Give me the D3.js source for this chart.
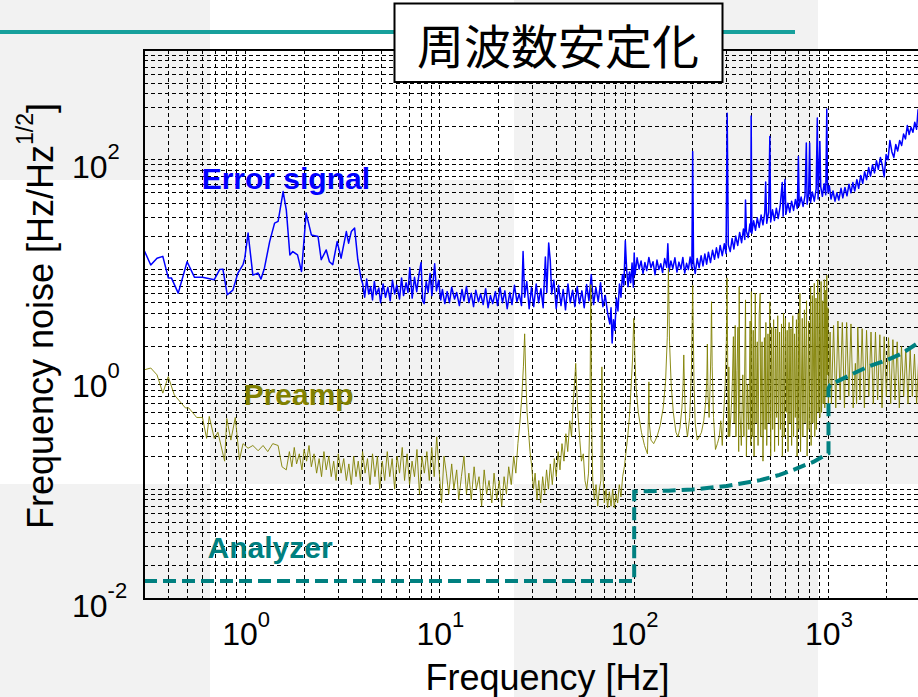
<!DOCTYPE html>
<html>
<head>
<meta charset="utf-8">
<script src="https://cdn.jsdelivr.net/npm/d3@7"></script>
<style>
  html, body { margin: 0; padding: 0; background: #fff; }
  svg { display: block; }
</style>
</head>
<body>
<svg id="chart" width="918" height="697"></svg>
<script>
// ---- Data: frequency [Hz], frequency noise [Hz/Hz^1/2] ----
const errorSignal = [
  [0.30,15.1],[0.325,11.0],[0.35,12.7],[0.375,13.2],[0.40,8.4],[0.415,8.4],[0.45,6.1],[0.50,11.8],
  [0.546,8.5],[0.60,8.5],[0.69,8.1],[0.735,10.0],[0.764,10.1],[0.805,5.9],[0.86,6.5],[0.913,9.3],
  [0.97,11.1],[0.99,12.7],[1.03,21.5],[1.09,8.9],[1.16,9.3],[1.20,8.2],[1.25,10.3],[1.33,18.0],
  [1.41,26.5],[1.47,27.5],[1.56,51.4],[1.62,35],[1.69,13.6],[1.75,14.6],[1.85,13.6],[1.94,9.6],
  [2.05,32.7],[2.18,20.7],[2.36,20.0],[2.45,12.3],[2.6,15.1],[2.7,11.8],[2.81,11.1],[2.96,18.0],
  [3.1,12.7],[3.3,22.2],[3.39,17.4],[3.5,22.2],[3.64,23.9],[3.78,12.3],[3.94,8.1],
  [4.0,7.5],[4.1,5.6],[4.2,8.2],[4.3,6.0],[4.4,7.0],[4.5,5.3],[4.6,7.8],[4.7,5.9],[4.85,6.8],
  [4.95,5.0],[5.1,7.4],[5.25,5.6],[5.4,6.9],[5.55,5.2],[5.7,8.0],[5.85,6.0],[6.0,7.2],[6.2,5.4],
  [6.35,8.4],[6.5,5.8],[6.7,7.6],[6.85,6.2],[7.0,10.4],[7.2,5.5],[7.4,8.5],[7.6,6.3],[7.8,9.0],
  [8.0,11.6],[8.15,5.2],[8.3,4.9],[8.5,7.8],[8.7,6.2],[8.9,9.2],[9.1,5.8],[9.4,11.3],[9.6,6.4],
  [9.85,8.0],[10.1,5.3],[10.3,6.6],
  [10.6,4.9],[10.9,6.3],[11.2,5.0],[11.5,6.9],[11.9,5.4],[12.2,6.2],[12.6,4.7],[13.0,6.6],[13.3,5.2],
  [13.7,7.0],[14.1,5.0],[14.5,6.1],[14.9,4.6],[15.3,6.5],[15.8,5.1],[16.2,6.0],[16.7,4.8],[17.2,6.7],
  [17.7,4.5],[18.2,5.8],[18.7,4.9],[19.3,6.3],[19.8,4.7],[20.4,6.9],[21.0,5.0],[21.6,6.4],[22.2,4.4],
  [22.9,6.2],[23.5,4.8],[24.2,7.2],[24.9,5.1],[25.6,6.0],[26.3,4.7],[26.8,14.6],[27.3,5.6],[28.0,7.8],
  [28.8,4.4],[29.6,6.9],[30.4,4.6],[31.3,7.4],[32.2,5.0],[33.1,6.7],[34.0,4.5],[34.9,13.0],[35.5,6.2],
  [36.3,17.5],[37.0,12.0],[37.6,6.0],[38.6,8.0],[39.7,4.4],[40.8,7.2],[42.0,4.7],[43.1,6.6],[44.3,4.3],
  [45.6,7.4],[46.9,5.0],[48.2,6.5],[49.5,4.6],[50.9,7.0],[52.3,4.9],[53.8,6.4],[55.3,4.5],[56.9,7.3],
  [58.5,5.2],[60.1,9.0],[61.8,4.8],[63.5,6.9],[65.3,5.1],[67.1,7.6],[69.0,4.6],[71.0,5.8],[73.0,4.0],
  [74.9,3.2],[76.0,4.5],[77.0,2.15],[78.2,3.5],[79.5,2.8],[81.0,5.5],[82.5,4.2],[84.0,7.4],[85.5,5.6],
  [87.0,9.0],[88.5,7.2],[90.0,18.3],[91.5,9.8],[93.0,7.0],[94.5,9.5],[96.0,7.6],[97.5,11.5],[99.0,6.9],
  [100,14.2],
  [101,9.0],[103.5,12.8],[106,10.1],[108.5,12.0],[111,9.2],[113.5,11.6],[116,9.8],[119,12.9],[122,10.4],
  [125,11.8],[128,9.0],[131,12.2],[134,10.0],[137,11.3],[140,9.4],[143.5,12.6],[147,10.5],[149,17.2],
  [151,9.6],[154.5,12.0],[158,10.2],[162,12.8],[166,9.5],[170,11.7],[174,10.1],[178,12.9],[182,9.3],
  [186,11.4],[190,10.0],[194,13.0],[198,10.2],[200,119],[202,11.8],[206,9.2],[211,12.6],[216,10.4],
  [221,13.4],[226,10.8],[231,13.9],[236,11.2],[241,14.4],[247,11.6],[253,15.0],[259,12.4],[265,15.8],
  [271,12.8],[277,16.6],[284,13.4],[291,17.2],[297,14.0],[301,266],[305,16.8],[312,14.6],[319,19.2],
  [326,15.4],[333,20.2],[341,16.6],[349,21.8],[357,17.6],[365,23.4],[371,18.8],[374,43],[378,22.4],
  [386,19.6],[394,26.0],[398,22.0],[400,250],[403,21.4],[412,27.8],[421,22.8],[430,29.6],[440,24.2],
  [450,31.4],[460,25.6],[470,32.8],[475,62.7],[481,26.4],[492,33.6],[499,163],[504,27.2],[515,35.0],
  [527,28.0],[539,36.2],[551,29.2],[564,37.8],[578,62],[584,30.6],[597,66],[604,32.0],[618,40.2],
  [632,33.2],[646,42.0],[661,34.6],[676,43.6],[691,36.0],[700,107],[707,38.0],[723,45.8],[740,37.6],
  [757,47.2],[769,142],[776,39.4],[790,48.6],[800,142],[808,40.8],[826,51.0],[845,42.0],[864,54.5],
  [876,240],[884,44.0],[903,147],[912,57.0],[930,46.5],[950,60.5],[968,48.0],[980,290],[987,64.0],
  [995,50.0],
  [1010,58],[1030,44],[1055,52],[1080,42],[1105,50],[1130,43],[1160,55],[1185,45],[1215,56],[1245,47],
  [1275,60],[1305,50],[1335,62],[1365,52],[1400,66],[1430,55],[1465,72],[1500,61],[1535,78],[1570,66],
  [1610,85],[1645,71],[1685,90],[1725,76],[1765,98],[1805,82],[1850,105],[1890,90],[1935,70],[1980,112],
  [2025,100],[2070,150],[2120,118],[2170,105],[2220,138],[2270,120],[2325,150],[2380,135],[2435,172],
  [2490,155],[2545,205],[2600,170],[2660,198],[2720,178],[2780,220],[2840,190],[2890,285],[2950,210]
];

const preamp = [
  [0.30,1.22],[0.325,1.27],[0.35,1.10],[0.375,0.75],[0.40,1.06],[0.43,0.72],[0.49,0.55],[0.51,0.55],
  [0.56,0.45],[0.60,0.45],[0.63,0.29],[0.65,0.46],[0.69,0.29],[0.72,0.33],[0.78,0.18],[0.80,0.44],
  [0.84,0.28],[0.885,0.45],[0.93,0.185],[0.97,0.26],[1.03,0.236],[1.09,0.25],[1.16,0.224],[1.23,0.25],
  [1.30,0.22],[1.38,0.26],[1.47,0.25],[1.54,0.16],[1.62,0.15],
  [1.68,0.22],[1.73,0.16],[1.78,0.24],[1.83,0.17],[1.89,0.21],[1.95,0.15],[2.0,0.23],[2.06,0.18],
  [2.12,0.25],[2.18,0.16],[2.25,0.21],[2.32,0.14],[2.39,0.19],[2.46,0.13],[2.53,0.22],[2.6,0.15],
  [2.68,0.2],[2.76,0.13],[2.84,0.18],[2.92,0.12],[3.0,0.21],[3.1,0.14],[3.2,0.19],[3.3,0.12],[3.4,0.17],
  [3.5,0.11],[3.6,0.2],[3.7,0.13],[3.8,0.18],[3.9,0.12],[4.0,0.22],[4.12,0.14],[4.24,0.19],[4.37,0.11],
  [4.5,0.21],[4.63,0.13],[4.77,0.2],[4.9,0.1],[5.05,0.18],[5.2,0.12],[5.36,0.22],[5.52,0.13],[5.68,0.19],
  [5.85,0.1],[6.02,0.2],[6.2,0.14],[6.4,0.24],[6.58,0.12],[6.78,0.21],[6.98,0.11],[7.19,0.18],[7.4,0.13],
  [7.62,0.23],[7.85,0.09],[8.08,0.2],[8.32,0.14],[8.57,0.22],[8.82,0.12],[9.08,0.24],[9.35,0.13],
  [9.63,0.3],[9.9,0.15],[10.2,0.075],[10.5,0.2],
  [10.8,0.14],[11.1,0.09],[11.5,0.17],[11.8,0.1],[12.2,0.15],[12.5,0.08],[12.9,0.13],[13.3,0.2],
  [13.7,0.09],[14.1,0.14],[14.5,0.08],[15.0,0.16],[15.4,0.1],[15.9,0.13],[16.4,0.07],[16.9,0.15],
  [17.4,0.09],[17.9,0.12],[18.5,0.075],[19.0,0.14],[19.6,0.08],[20.2,0.12],[20.8,0.07],[21.4,0.13],
  [22.0,0.09],[22.6,0.16],[23.3,0.11],[24.0,0.2],[24.6,0.14],[25.2,0.26],[25.8,0.4],[26.4,0.7],
  [26.9,1.3],[27.3,2.6],[27.7,1.0],[28.1,0.5],[28.6,0.33],[29.1,0.22],[29.7,0.16],[30.3,0.1],
  [30.9,0.14],[31.6,0.08],[32.3,0.12],[33.0,0.075],[33.8,0.13],[34.6,0.09],[35.4,0.15],[36.2,0.1],
  [37.0,0.17],[37.9,0.11],[38.8,0.19],[39.7,0.13],[40.6,0.22],[41.5,0.15],[42.5,0.26],[43.5,0.18],
  [44.5,0.32],[45.5,0.22],[46.6,0.42],[47.6,0.3],[48.5,0.62],[49.3,0.9],[50.0,1.4],[50.7,0.75],
  [51.5,0.45],[52.5,0.28],[53.5,0.18],[54.7,0.21],[55.8,0.12],[57.0,0.1],[58.2,0.14],[59.2,0.5],
  [59.8,7.3],[60.4,0.4],[61.2,0.12],[62.4,0.08],[63.6,0.11],[64.9,0.07],[66.2,0.1],[67.4,0.12],
  [68.2,1.3],[69.0,0.14],[70.2,0.075],[71.6,0.1],[73.0,0.068],[74.5,0.095],[76.0,0.07],[77.5,0.1],
  [79.0,0.068],[80.6,0.09],[82.2,0.075],[83.8,0.11],[85.5,0.085],[87.2,0.13],[89.0,0.16],[90.8,0.22],
  [92.6,0.3],[94.4,0.45],[96.2,0.8],[98.0,1.5],[99.5,3.6],
  [100.5,2.0],[102,0.9],[105,0.5],[109,0.33],[113,0.25],[117,0.21],[118.5,0.5],[119,0.95],[119.6,0.4],
  [122,0.28],[126,0.26],[131,0.3],[136,0.38],[141,0.55],[145,0.95],[148,2.4],[150,10.3],[152,2.2],
  [155,0.9],[159,0.5],[164,0.33],[168,0.3],[172,0.36],[176,0.55],[178.5,0.9],[180,1.67],[181.5,0.8],
  [184,0.42],[188,0.3],[193,0.45],[197,1.2],[200,7.2],[203,1.0],[206,0.4],[211,0.28],[216,0.3],
  [222,0.33],[228,0.42],[233,0.6],[236.5,1.0],[238,2.1],[240,0.7],[243,0.45],[246,0.9],[248.5,2.0],
  [250,5.1],[252,1.3],[256,0.45],[262,0.23],[268,0.26],[274,0.3],[279,0.42],[284,0.25],[289,0.5],
  [294,0.9],[298,2.2],[300.5,8.4],[303,1.3],[305,0.3],[307,1.3],[310,0.3],[316,0.55],[320,0.95],
  [324,2.45],[327,0.4],[331,3.1],[334,0.3],[338,1.2],[342,3.0],[345,0.22],[347,7.0],[350,0.5],
  [356,0.25],[362,1.1],[367,0.3],[374,5.3],[378,0.2],[383,0.9],[389,0.35],[395,3.4],[398,0.25],
  [401,6.3],[405,0.3],[410,2.8],[414,0.2],[420,6.1],[424,0.4],[430,2.2],[434,0.25],[440,4.0],
  [445,6.1],[448,0.3],[455,2.2],[460,0.18],[468,2.4],[472,0.35],[476,3.3],[481,0.25],[488,2.6],
  [493,0.4],[499,5.1],[504,0.2],[510,3.0],[516,0.35],[522,3.5],[528,0.22],[535,2.9],[541,0.45],
  [548,3.8],[553,0.25],[560,2.7],[566,0.35],[573,3.2],[579,0.2],[587,4.0],[592,0.3],[600,3.6],
  [606,0.5],[613,2.8],[619,0.22],[627,3.3],[633,0.4],[641,2.9],[646,0.25],[655,3.8],[661,0.3],
  [669,2.6],[675,0.45],[684,3.5],[689,0.2],[699,4.0],[704,0.35],[713,6.1],[718,0.22],[733,3.6],
  [738,0.3],[752,4.3],[757,0.4],[771,5.2],[776,0.2],[790,3.4],[795,0.35],[809,7.0],[814,0.25],
  [826,5.8],[831,0.4],[845,7.5],[850,0.3],[862,5.5],[867,0.35],[880,8.1],[885,0.5],[898,6.2],
  [903,0.45],[916,7.8],[921,0.5],[934,5.2],[939,0.6],[952,8.1],[957,0.55],[968,6.5],[973,0.7],
  [980,8.9],[986,1.1],[993,4.5],[998,0.6],
  [1005,0.8],[1019,2.7],[1035,0.6],[1062,3.1],[1090,0.55],[1118,3.4],[1148,0.65],[1178,3.3],
  [1208,0.55],[1240,3.3],[1272,0.7],[1305,3.2],[1340,0.55],[1375,1.4],[1395,0.6],[1415,3.0],
  [1452,0.65],[1490,2.9],[1530,0.55],[1570,2.8],[1612,0.7],[1655,2.7],[1700,0.6],[1745,2.7],
  [1790,0.65],[1838,2.55],[1886,0.55],[1935,2.45],[1985,0.7],[2037,2.4],[2090,0.6],[2145,2.3],
  [2200,0.65],[2257,2.2],[2315,0.55],[2375,2.0],[2437,0.7],[2500,1.9],[2565,0.6],[2632,1.85],
  [2700,0.7],[2770,1.7],[2842,0.6],[2915,1.6],[2990,0.7]
];

const analyzer = [
  [0.3,0.0146],[100,0.0146],[100,0.095],[150,0.097],[200,0.0995],[300,0.107],[445,0.121],
  [560,0.135],[660,0.15],[750,0.165],[840,0.178],[920,0.195],[1000,0.212],[1000,0.83],
  [1020,0.89],[1300,1.1],[1600,1.31],[2000,1.5],[2400,1.73],[2950,2.2]
];

const xTicks = [1, 10, 100, 1000];
const yTicks = [0.01, 1, 100];

// ---- Layout ----
const svg = d3.select('#chart');
const W = 918, H = 697;
const plot = { left: 144, top: 50, right: 921.2, bottom: 599 };
const FONT = "'Liberation Sans', Arial, Helvetica, sans-serif";

const x = d3.scaleLog().domain([0.3, 3000]).range([plot.left, plot.right]);
const y = d3.scaleLog().domain([0.01, 1000]).range([plot.bottom, plot.top]);

// Checkered slide background
const tile = 304, offX = -94, offY = -124;
const bg = svg.append('g');
bg.append('rect').attr('width', W).attr('height', H).attr('fill', '#ffffff');
for (let r = 0; r < 4; r++) {
  for (let c = 0; c < 5; c++) {
    if ((r + c) % 2 === 0) {
      bg.append('rect')
        .attr('x', offX + c * tile).attr('y', offY + r * tile)
        .attr('width', tile).attr('height', tile)
        .attr('fill', '#f2f2f2');
    }
  }
}

// Teal header rule
svg.append('line')
  .attr('x1', 0).attr('x2', 795).attr('y1', 32).attr('y2', 32)
  .attr('stroke', '#17a09c').attr('stroke-width', 4);

// Log grid (major + minor)
const gridX = [], gridY = [];
for (let e = -1; e <= 3; e++) for (let k = 1; k <= 9; k++) {
  const v = k * Math.pow(10, e);
  if (v >= 0.3 - 1e-9 && v <= 3000 + 1e-9) gridX.push(v);
}
for (let e = -2; e <= 2; e++) for (let k = 1; k <= 9; k++) {
  const v = k * Math.pow(10, e);
  if (v > 0.01 + 1e-9 && v <= 1000 + 1e-9) gridY.push(v);
}
const grid = svg.append('g')
  .attr('stroke', '#000').attr('stroke-width', 1)
  .attr('stroke-dasharray', '4,3').attr('shape-rendering', 'crispEdges');
grid.selectAll('.gx').data(gridX).join('line')
  .attr('x1', d => x(d)).attr('x2', d => x(d))
  .attr('y1', plot.top).attr('y2', plot.bottom);
grid.selectAll('.gy').data(gridY).join('line')
  .attr('x1', plot.left).attr('x2', plot.right)
  .attr('y1', d => y(d)).attr('y2', d => y(d));

// Spectra
svg.append('clipPath').attr('id', 'plotclip')
  .append('rect')
  .attr('x', plot.left).attr('y', plot.top)
  .attr('width', plot.right - plot.left).attr('height', plot.bottom - plot.top);

const line = d3.line().x(d => x(d[0])).y(d => y(d[1]));
const curves = svg.append('g').attr('clip-path', 'url(#plotclip)').attr('fill', 'none');

curves.append('path').datum(errorSignal)
  .attr('d', line).attr('stroke', '#0000ff').attr('stroke-width', 1.5)
  .attr('stroke-linejoin', 'round');
curves.append('path').datum(preamp)
  .attr('d', line).attr('stroke', '#808000').attr('stroke-width', 0.9)
  .attr('stroke-linejoin', 'round');
curves.append('path').datum(analyzer)
  .attr('d', line).attr('stroke', '#008080').attr('stroke-width', 4)
  .attr('stroke-dasharray', '13,6');

// Axes box
svg.append('path')
  .attr('d', `M${plot.right},${plot.top}H${plot.left}V${plot.bottom}H${plot.right}`)
  .attr('fill', 'none').attr('stroke', '#000').attr('stroke-width', 2);

// Tick labels (power-of-ten with superscript)
function powerLabel(sel, baseDy, supDy) {
  sel.each(function (d) {
    const t = d3.select(this);
    const e = Math.round(Math.log10(d));
    t.text(null).attr('dy', null).attr('y', baseDy);
    t.append('tspan').text('10');
    t.append('tspan').attr('dy', supDy).attr('font-size', 22).text(String(e));
  });
}

const gx = svg.append('g')
  .attr('transform', `translate(0,${plot.bottom})`)
  .call(d3.axisBottom(x).tickValues(xTicks).tickSize(0).tickPadding(0));
gx.select('.domain').remove();
gx.attr('font-family', FONT).attr('font-size', 32);
gx.selectAll('.tick text').attr('fill', '#000').attr('text-anchor', 'middle')
  .call(powerLabel, 46, -18);

const gy = svg.append('g')
  .attr('transform', `translate(${plot.left},0)`)
  .call(d3.axisLeft(y).tickValues(yTicks).tickSize(0).tickPadding(0));
gy.select('.domain').remove();
gy.attr('font-family', FONT).attr('font-size', 32);
gy.selectAll('.tick text').attr('fill', '#000').attr('text-anchor', 'start').attr('x', -72)
  .call(powerLabel, 17.5, -19);

// Axis titles
svg.append('text')
  .attr('x', 547.5).attr('y', 690)
  .attr('text-anchor', 'middle')
  .attr('font-family', FONT).attr('font-size', 36).attr('fill', '#000')
  .text('Frequency [Hz]');

const yTitle = svg.append('text')
  .attr('transform', 'translate(53,316) rotate(-90)')
  .attr('text-anchor', 'middle')
  .attr('font-family', FONT).attr('font-size', 36).attr('fill', '#000');
yTitle.append('tspan').text('Frequency noise [Hz/Hz');
yTitle.append('tspan').attr('dy', -20).attr('font-size', 23).text('1/2');
yTitle.append('tspan').attr('dy', 20).text(']');

// Series labels
const seriesLabels = [
  { text: 'Error signal', f: 0.594, v: 54.4, color: '#0000ff' },
  { text: 'Preamp', f: 0.977, v: 0.586, color: '#808000' },
  { text: 'Analyzer', f: 0.637, v: 0.0236, color: '#008080' }
];
svg.append('g').selectAll('text').data(seriesLabels).join('text')
  .attr('x', d => x(d.f)).attr('y', d => y(d.v))
  .attr('font-family', FONT).attr('font-size', 30).attr('font-weight', 'bold')
  .attr('fill', d => d.color)
  .text(d => d.text);

// Title box
svg.append('rect')
  .attr('x', 394.5).attr('y', 3.5).attr('width', 328).attr('height', 78.5)
  .attr('fill', '#fff').attr('stroke', '#000').attr('stroke-width', 2);
svg.append('text')
  .attr('x', 558).attr('y', 64)
  .attr('text-anchor', 'middle')
  .attr('font-family', "'Noto Sans CJK JP', 'Noto Sans CJK SC', sans-serif")
  .attr('font-size', 47).attr('fill', '#000')
  .text('周波数安定化');
</script>
</body>
</html>
